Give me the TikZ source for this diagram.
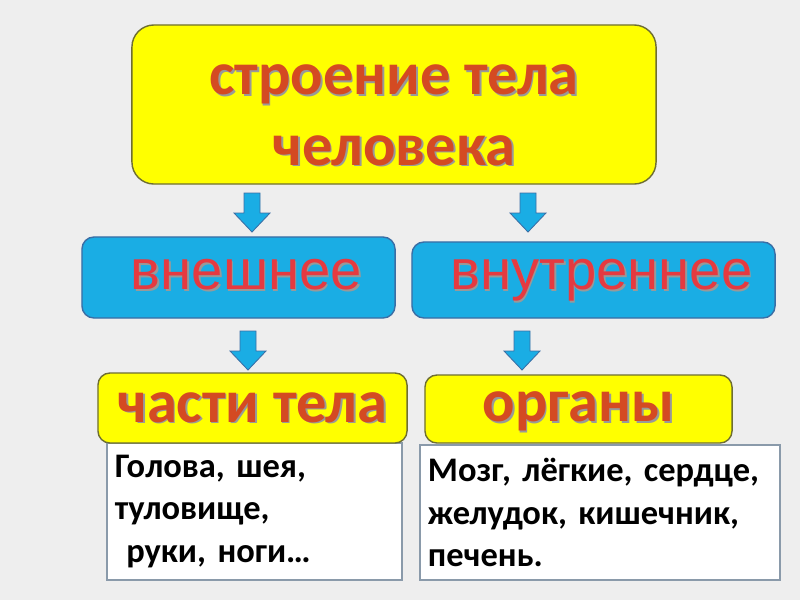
\documentclass[tikz,border=0pt]{standalone}
\usepackage{fontspec}
\setmainfont{Carlito}
\newfontfamily\arialfont{Liberation Sans}
\definecolor{bgcol}{HTML}{EEEEEE}
\definecolor{yelcol}{HTML}{FFFF00}
\definecolor{yelline}{HTML}{6E6E32}
\definecolor{bluecol}{HTML}{1AADE4}
\definecolor{blueline}{HTML}{3A6EA5}
\definecolor{listline}{HTML}{8A9AAA}
\definecolor{redtext}{HTML}{D44A22}
\definecolor{pinktext}{HTML}{E53A40}
\newcommand{\shadowed}[1]{\makebox[0pt][l]{\hspace{1.2pt}\raisebox{-1.2pt}{\textcolor{black!40}{#1}}}#1}
\begin{document}
\begin{tikzpicture}[x=0.025cm,y=-0.025cm,
	yelbox/.style={rectangle, rounded corners=0.3cm, draw=yelline, line width=1pt, fill=yelcol, inner sep=0pt},
	bluebox/.style={rectangle, rounded corners=0.3cm, draw=blueline, line width=1pt, fill=bluecol, inner sep=0pt},
	yeltext/.style={text=redtext, font=\fontsize{43}{50}\selectfont\bfseries},
	bluetext/.style={text=pinktext, font=\fontsize{40}{48}\selectfont\arialfont, text height=20.8pt},
	listbox/.style={rectangle, draw=listline, line width=1pt, fill=white, inner xsep=0.2cm, inner ysep=0pt, align=left, font=\fontsize{24.5}{30}\selectfont\bfseries},
	downarrow/.pic={\filldraw[draw=blueline, fill=bluecol, line width=0.6pt] (-8,0) -- (8,0) -- (8,20) -- (18,20) -- (0,39) -- (-18,20) -- (-8,20) -- cycle;}]
	\useasboundingbox (0,0) rectangle (800,600);
	\fill[bgcol] (0,0) rectangle (800,600);
	% top box, its two lines set a little below the middle
	\node (body) at (394, 104.5)	[yelbox, rounded corners=0.55cm, minimum width=13.1cm, minimum height=3.975cm]	{};
	\node (bodytext) at (394, 116)	[yeltext, align=center, inner sep=0pt]	{\shadowed{строение тела}\\\shadowed{человека}};
	\node (ext) at (238.5, 277.5)	[bluebox, bluetext, text depth=3.5pt, minimum width=7.825cm, minimum height=2.025cm]	{\ \shadowed{внешнее}};
	\node (int) at (593.5, 280)	[bluebox, bluetext, text depth=7pt, minimum width=9.075cm, minimum height=1.9cm]	{\ \shadowed{внутреннее}};
	\node (partslist) at (254.5, 511.5)	[listbox, text width=6.975cm, minimum height=3.425cm]	{Голова, шея,\\туловище,\\\ руки, ноги…};
	\node (organslist) at (600, 512.5)	[listbox, text width=8.6cm, minimum height=3.375cm]	{Мозг, лёгкие, сердце,\\желудок, кишечник,\\печень.};
	\node (parts) at (252.5, 408)	[yelbox, yeltext, text height=20pt, text depth=0pt, minimum width=7.725cm, minimum height=1.75cm]	{\shadowed{части тела}};
	\node (organs) at (578.5, 409)	[yelbox, yeltext, text height=20pt, text depth=2pt, minimum width=7.675cm, minimum height=1.7cm]	{\shadowed{органы}};
	\pic (toext) at (252, 193) {downarrow};
	\pic (toint) at (528, 193) {downarrow};
	\pic (toparts) at (248, 331) {downarrow};
	\pic (toorgans) at (522, 331) {downarrow};
\end{tikzpicture}
\end{document}
